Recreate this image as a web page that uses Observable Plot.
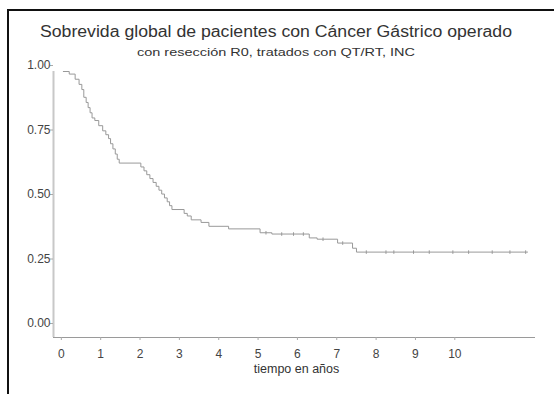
<!DOCTYPE html>
<html>
<head>
<meta charset="utf-8">
<script src="https://cdn.jsdelivr.net/npm/d3@7"></script>
<script src="https://cdn.jsdelivr.net/npm/@observablehq/plot@0.6"></script>
<style>
  html, body { margin: 0; padding: 0; background: #fff; }
  #wrap { position: relative; width: 554px; height: 394px; overflow: hidden; background: #fff; font-family: "Liberation Sans", Arial, sans-serif; }
  #frame { position: absolute; left: 7px; top: 9px; width: 600px; height: 500px; border-left: 2px solid #111; border-top: 2px solid #111; }
  #plot { position: absolute; left: 0; top: 0; }
  #texts { position: absolute; left: 0; top: 0; }
</style>
</head>
<body>
<div id="wrap">
  <div id="frame"></div>
  <div id="plot"></div>
  <svg id="texts" width="554" height="394"></svg>
</div>
<script>
// Kaplan-Meier steps: time (years) and survival after the step
const stepTimes = [0, 0.15, 0.3, 0.4, 0.47, 0.52, 0.58, 0.63, 0.68, 0.73, 0.8, 0.9, 1.0, 1.08, 1.15, 1.2, 1.26, 1.32, 1.37, 1.42, 1.97, 2.05, 2.12, 2.2, 2.28, 2.36, 2.43, 2.5, 2.57, 2.64, 2.7, 2.76, 3.07, 3.15, 3.25, 3.5, 3.7, 4.2, 5.0, 5.3, 6.25, 6.45, 6.97, 7.35, 7.45, 11.8];
const stepSurv  = [1.0, 0.99, 0.97, 0.95, 0.93, 0.90, 0.88, 0.86, 0.84, 0.82, 0.81, 0.79, 0.77, 0.755, 0.74, 0.72, 0.70, 0.68, 0.66, 0.645, 0.63, 0.615, 0.60, 0.585, 0.57, 0.555, 0.54, 0.525, 0.51, 0.495, 0.48, 0.465, 0.45, 0.44, 0.425, 0.415, 0.40, 0.39, 0.375, 0.37, 0.355, 0.35, 0.335, 0.315, 0.30, 0.30];
// censored observations (years)
const censorTimes = [5.15, 5.55, 5.85, 6.1, 6.6, 7.1, 7.7, 8.2, 8.4, 8.9, 9.3, 9.9, 10.3, 10.9, 11.35, 11.75];
const xTicks = [0, 1, 2, 3, 4, 5, 6, 7, 8, 9, 10];
const yTicks = [0, 0.25, 0.5, 0.75, 1];
const titleText = "Sobrevida global de pacientes con Cáncer Gástrico operado";
const subtitleText = "con resección R0, tratados con QT/RT, INC";
const xLabel = "tiempo en años";

const km = stepTimes.map((t, i) => ({t, s: stepSurv[i]}));
const survAt = t => { let s = 1; for (const d of km) if (d.t <= t) s = d.s; return s; };
const censors = censorTimes.map(t => ({t, s: survAt(t)}));

const vbar = { draw(ctx, size) { const h = Math.sqrt(size); ctx.moveTo(0, -h); ctx.lineTo(0, h); } };

const chart = Plot.plot({
  width: 554,
  height: 394,
  marginLeft: 53,
  marginRight: 19,
  marginTop: 71,
  marginBottom: 57,
  style: { fontFamily: "'Liberation Sans', Arial, sans-serif", background: "transparent", color: "#444" },
  x: { domain: [-0.25, 12], axis: null, label: null },
  y: { domain: [-0.031, 1], axis: null, label: null },
  marks: [
    Plot.ruleX([-0.25], { y1: -0.031, y2: 1, stroke: "#c8c8c8", strokeWidth: 2 }),
    Plot.ruleY([-0.031], { x1: -0.25, x2: 12, stroke: "#9a9a9a", strokeWidth: 1.2 }),
    Plot.axisX(xTicks, { y: -0.031, anchor: "bottom", label: null, tickSize: 3, tickPadding: 9, fontSize: 12, dx: -2, stroke: "#aaa", fill: "#444", tickFormat: d => String(d) }),
    Plot.axisY(yTicks, { x: -0.25, anchor: "left", label: null, tickSize: 3, tickPadding: 0, fontSize: 12, dy: -6, stroke: "#aaa", fill: "#444", tickFormat: d => d.toFixed(2) }),
    Plot.line(km, { x: "t", y: "s", curve: "step-after", stroke: "#999", strokeWidth: 1 }),
    Plot.dot(censors, { x: "t", y: "s", symbol: vbar, r: 1, stroke: "#999", strokeWidth: 1, fill: "none" }),
    Plot.text([xLabel], { frameAnchor: "bottom", lineAnchor: "middle", dy: 31, dx: 2, fontSize: 12.5, fill: "#333" })
  ]
});
document.getElementById("plot").appendChild(chart);

const ts = d3.select("#texts");
ts.append("text").attr("x", 40).attr("y", 37).attr("textLength", 472).attr("lengthAdjust", "spacingAndGlyphs")
  .attr("font-size", 16).attr("fill", "#333").attr("font-family", "'Liberation Sans', Arial, sans-serif").text(titleText);
ts.append("text").attr("x", 137).attr("y", 56).attr("textLength", 278).attr("lengthAdjust", "spacingAndGlyphs")
  .attr("font-size", 10.5).attr("fill", "#333").attr("font-family", "'Liberation Sans', Arial, sans-serif").text(subtitleText);
</script>
</body>
</html>
